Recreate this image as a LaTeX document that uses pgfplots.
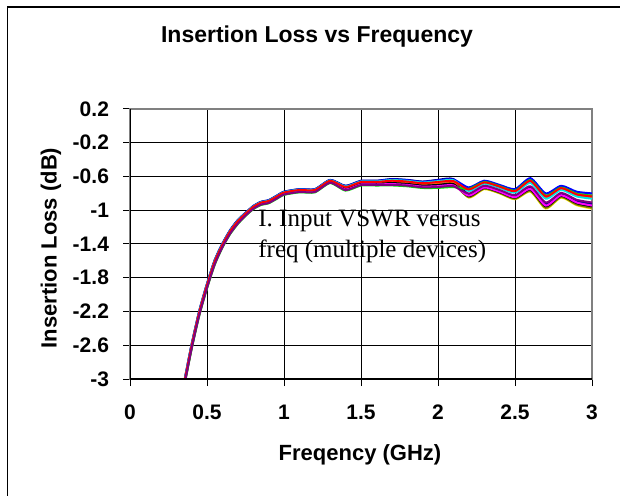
\documentclass[border=0pt]{standalone}
\usepackage{fontspec}
\setmainfont{Liberation Sans}
\newfontfamily\timesfont{Liberation Serif}
\usepackage{pgfplots}
\usepackage{pgfplotstable}
\pgfplotsset{compat=1.18}
\definecolor{cBlue}{RGB}{0,0,255}
\definecolor{cRed}{RGB}{255,0,0}
\definecolor{cGreen}{RGB}{0,230,0}
\definecolor{cCyan}{RGB}{0,230,230}
\definecolor{cMagenta}{RGB}{255,0,255}
\definecolor{cYellow}{RGB}{255,230,0}
\definecolor{cOlive}{RGB}{128,128,0}
\definecolor{cPurple}{RGB}{128,0,128}
\definecolor{cNavy}{RGB}{0,0,128}
\definecolor{cGray}{RGB}{150,150,150}
\definecolor{cOrange}{RGB}{255,102,0}
\definecolor{cBlack}{RGB}{0,0,0}
\pgfplotstableread{
x A B C D E F G H I J K L
0.35 -3.053 -3.065 -3.107 -3.059 -3.095 -3.071 -3.089 -3.101 -3.050 -3.077 -3.080 -3.086
0.40 -2.593 -2.605 -2.647 -2.599 -2.635 -2.611 -2.629 -2.641 -2.590 -2.617 -2.620 -2.626
0.45 -2.193 -2.205 -2.247 -2.199 -2.235 -2.211 -2.229 -2.241 -2.190 -2.217 -2.220 -2.226
0.50 -1.873 -1.885 -1.927 -1.879 -1.915 -1.891 -1.909 -1.921 -1.870 -1.897 -1.900 -1.906
0.55 -1.593 -1.605 -1.647 -1.599 -1.635 -1.611 -1.629 -1.641 -1.590 -1.617 -1.620 -1.626
0.60 -1.398 -1.408 -1.443 -1.403 -1.433 -1.413 -1.428 -1.438 -1.395 -1.418 -1.420 -1.425
0.65 -1.238 -1.248 -1.283 -1.243 -1.273 -1.253 -1.268 -1.278 -1.235 -1.258 -1.260 -1.265
0.70 -1.118 -1.128 -1.163 -1.123 -1.153 -1.133 -1.148 -1.158 -1.115 -1.138 -1.140 -1.145
0.75 -1.032 -1.040 -1.068 -1.036 -1.060 -1.044 -1.056 -1.064 -1.030 -1.048 -1.050 -1.054
0.80 -0.952 -0.960 -0.988 -0.956 -0.980 -0.964 -0.976 -0.984 -0.950 -0.968 -0.970 -0.974
0.85 -0.902 -0.910 -0.938 -0.906 -0.930 -0.914 -0.926 -0.934 -0.900 -0.918 -0.920 -0.924
0.90 -0.882 -0.890 -0.918 -0.886 -0.910 -0.894 -0.906 -0.914 -0.880 -0.898 -0.900 -0.904
0.95 -0.832 -0.840 -0.868 -0.836 -0.860 -0.844 -0.856 -0.864 -0.830 -0.848 -0.850 -0.854
1.00 -0.782 -0.790 -0.818 -0.786 -0.810 -0.794 -0.806 -0.814 -0.780 -0.798 -0.800 -0.804
1.10 -0.752 -0.760 -0.788 -0.756 -0.780 -0.764 -0.776 -0.784 -0.750 -0.768 -0.770 -0.774
1.20 -0.752 -0.760 -0.788 -0.756 -0.780 -0.764 -0.776 -0.784 -0.750 -0.768 -0.770 -0.774
1.30 -0.642 -0.650 -0.678 -0.646 -0.670 -0.654 -0.666 -0.674 -0.640 -0.658 -0.660 -0.664
1.40 -0.713 -0.725 -0.767 -0.719 -0.755 -0.731 -0.749 -0.761 -0.710 -0.737 -0.740 -0.746
1.50 -0.653 -0.665 -0.707 -0.659 -0.695 -0.671 -0.689 -0.701 -0.650 -0.677 -0.680 -0.686
1.60 -0.653 -0.665 -0.707 -0.659 -0.695 -0.671 -0.689 -0.701 -0.650 -0.677 -0.680 -0.686
1.70 -0.634 -0.650 -0.706 -0.642 -0.690 -0.658 -0.682 -0.698 -0.630 -0.666 -0.670 -0.678
1.80 -0.644 -0.660 -0.716 -0.652 -0.700 -0.668 -0.692 -0.708 -0.640 -0.676 -0.680 -0.688
1.90 -0.664 -0.680 -0.736 -0.672 -0.720 -0.688 -0.712 -0.728 -0.660 -0.696 -0.700 -0.708
2.00 -0.645 -0.665 -0.735 -0.655 -0.715 -0.675 -0.705 -0.725 -0.640 -0.685 -0.690 -0.700
2.10 -0.635 -0.655 -0.725 -0.645 -0.705 -0.665 -0.695 -0.715 -0.630 -0.675 -0.680 -0.690
2.20 -0.730 -0.754 -0.748 -0.772 -0.826 -0.850 -0.844 -0.802 -0.814 -0.736 -0.760 -0.832
2.30 -0.650 -0.670 -0.665 -0.685 -0.730 -0.750 -0.745 -0.710 -0.720 -0.655 -0.675 -0.735
2.40 -0.700 -0.720 -0.715 -0.735 -0.780 -0.800 -0.795 -0.760 -0.770 -0.705 -0.725 -0.785
2.50 -0.750 -0.774 -0.768 -0.792 -0.846 -0.870 -0.864 -0.822 -0.834 -0.756 -0.780 -0.852
2.60 -0.620 -0.652 -0.644 -0.676 -0.748 -0.780 -0.772 -0.716 -0.732 -0.628 -0.660 -0.756
2.70 -0.800 -0.836 -0.827 -0.863 -0.944 -0.980 -0.971 -0.908 -0.926 -0.809 -0.845 -0.953
2.80 -0.710 -0.738 -0.731 -0.759 -0.822 -0.850 -0.843 -0.794 -0.808 -0.717 -0.745 -0.829
2.90 -0.780 -0.812 -0.804 -0.836 -0.908 -0.940 -0.932 -0.876 -0.892 -0.788 -0.820 -0.916
3.00 -0.800 -0.836 -0.827 -0.863 -0.944 -0.980 -0.971 -0.908 -0.926 -0.809 -0.845 -0.953
}\datatable
\begin{document}
\begin{tikzpicture}
\path[use as bounding box] (0pt,0pt) rectangle (310pt,-248pt);
\draw[black, line width=0.7pt] (3.75pt,-250pt) -- (3.75pt,-3.5pt) -- (312pt,-3.5pt);
\begin{axis}[
  scale only axis,
  width=231pt, height=135pt,
  at={(65pt,-189.5pt)}, anchor=south west,
  xmin=0, xmax=3, ymin=-3, ymax=0.2,
  xtick={0,0.5,1,1.5,2,2.5,3},
  ytick={-3,-2.6,-2.2,-1.8,-1.4,-1,-0.6,-0.2,0.2},
  grid=major,
  major grid style={black, line width=0.5pt},
  axis line style={draw=gray, line width=0.9pt},
  tick align=outside,
  major tick length=3.5pt,
  tick style={black, line width=0.5pt},
  xtick pos=bottom, ytick pos=left,
  /pgf/number format/assume math mode=true,
  ticklabel style={font=\fontsize{10.5}{12}\selectfont\bfseries},
  yticklabel style={xshift=-3.5pt},
  xticklabel style={yshift=-6pt},
  clip=true,
  every axis plot/.append style={line width=1pt, smooth, tension=0.4},
]
\addplot[cYellow] table[x=x,y=F]{\datatable};
\addplot[cGray] table[x=x,y=J]{\datatable};
\addplot[cOrange] table[x=x,y=K]{\datatable};
\addplot[cOlive] table[x=x,y=G]{\datatable};
\addplot[cBlack] table[x=x,y=L]{\datatable};
\addplot[cNavy] table[x=x,y=I]{\datatable};
\addplot[cBlue] table[x=x,y=A]{\datatable};
\addplot[cMagenta] table[x=x,y=E]{\datatable};
\addplot[cCyan] table[x=x,y=D]{\datatable};
\addplot[cGreen] table[x=x,y=C]{\datatable};
\addplot[cRed] table[x=x,y=B]{\datatable};
\addplot[cPurple] table[x=x,y=H]{\datatable};
\draw[black, line width=0.6pt] (rel axis cs:0,1) -- (rel axis cs:0,0) -- (rel axis cs:1,0);
\end{axis}
\node[font=\fontsize{11.5}{13}\selectfont\bfseries] at (158.5pt,-18.5pt) {Insertion Loss vs Frequency};
\node[font=\fontsize{11}{13}\selectfont\bfseries] at (180pt,-227.5pt) {Freqency (GHz)};
\node[font=\fontsize{11}{13}\selectfont\bfseries, rotate=90] at (25.5pt,-124pt) {Insertion Loss (dB)};
\node[font=\fontsize{12.5}{15}\selectfont\timesfont, anchor=base west, inner sep=0pt] at (129pt,-113.5pt) {I. Input VSWR versus};
\node[font=\fontsize{12.5}{15}\selectfont\timesfont, anchor=base west, inner sep=0pt] at (129pt,-129pt) {freq (multiple devices)};
\end{tikzpicture}
\end{document}
